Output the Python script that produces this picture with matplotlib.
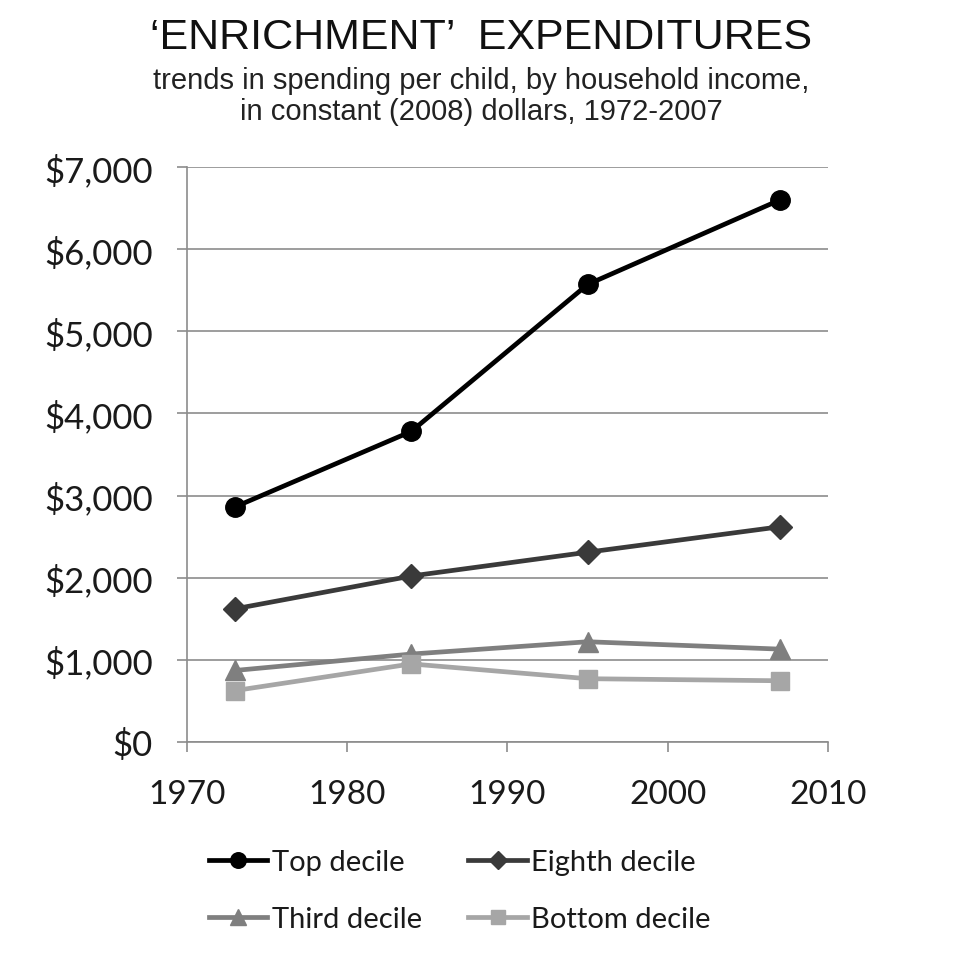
import matplotlib
matplotlib.use("Agg")
import matplotlib.pyplot as plt
from matplotlib.ticker import FuncFormatter, MultipleLocator

years = [1973, 1984, 1995, 2007]
top_decile = [2860, 3780, 5570, 6600]
eighth_decile = [1620, 2020, 2310, 2620]
third_decile = [870, 1070, 1220, 1130]
bottom_decile = [625, 950, 770, 745]
series_names = ["Top decile", "Eighth decile", "Third decile", "Bottom decile"]

fig = plt.figure(figsize=(9.62, 9.62), dpi=100)
ax = fig.add_axes([0.194, 0.2277, 0.667, 0.5977])

styles = [
    (top_decile, "#000000", "o", 14),
    (eighth_decile, "#3a3a3a", "D", 12),
    (third_decile, "#7f7f7f", "^", 14),
    (bottom_decile, "#a6a6a6", "s", 12.5),
]
handles = []
for (vals, col, mk, ms), name in zip(styles, series_names):
    h, = ax.plot(years, vals, color=col, lw=3.4, marker=mk, markersize=ms,
                 markerfacecolor=col, markeredgecolor=col, label=name, zorder=3)
    handles.append(h)

ax.set_xlim(1970, 2010)
ax.set_ylim(0, 7000)
ax.xaxis.set_major_locator(MultipleLocator(10))
ax.yaxis.set_major_locator(MultipleLocator(1000))
ax.yaxis.set_major_formatter(FuncFormatter(lambda v, p: f"${int(v):,}"))
ax.grid(axis="y", color="#8c8c8c", lw=1.2)
ax.set_axisbelow(True)
for s in ["top", "right"]:
    ax.spines[s].set_visible(False)
for s in ["left", "bottom"]:
    ax.spines[s].set_color("#8c8c8c")
    ax.spines[s].set_linewidth(1.2)
ax.tick_params(axis="both", colors="#8c8c8c", length=7.5, width=1.2, direction="out")
ax.tick_params(axis="y", pad=17)
ax.tick_params(axis="x", pad=19)
for lab in ax.get_xticklabels():
    lab.set_fontfamily("Lato")
    lab.set_fontsize(24)
    lab.set_color("#1a1a1a")
for lab in ax.get_yticklabels():
    lab.set_fontfamily("Lato")
    lab.set_fontsize(25)
    lab.set_color("#1a1a1a")

fig.text(0.5, 0.949, "\u2018ENRICHMENT\u2019  EXPENDITURES", ha="center", va="baseline",
         family="Liberation Sans", fontsize=31, color="#111111")
fig.text(0.5, 0.916, "trends in spending per child, by household income,", ha="center",
         va="center", family="Liberation Sans", fontsize=21, color="#222222")
fig.text(0.5, 0.884, "in constant (2008) dollars, 1972-2007", ha="center",
         va="center", family="Liberation Sans", fontsize=21, color="#222222")

order = [0, 2, 1, 3]
leg = fig.legend(handles=[handles[i] for i in order],
                 labels=[series_names[i] for i in order], ncol=2, loc="center",
                 bbox_to_anchor=(0.478, 0.073), frameon=False,
                 prop={"family": "Lato", "size": 21}, handlelength=2.0,
                 handletextpad=0.15, columnspacing=1.6, labelspacing=1.05,
                 markerscale=0.8)
for t in leg.get_texts():
    t.set_color("#1a1a1a")

fig.savefig("out.png", dpi=100)
